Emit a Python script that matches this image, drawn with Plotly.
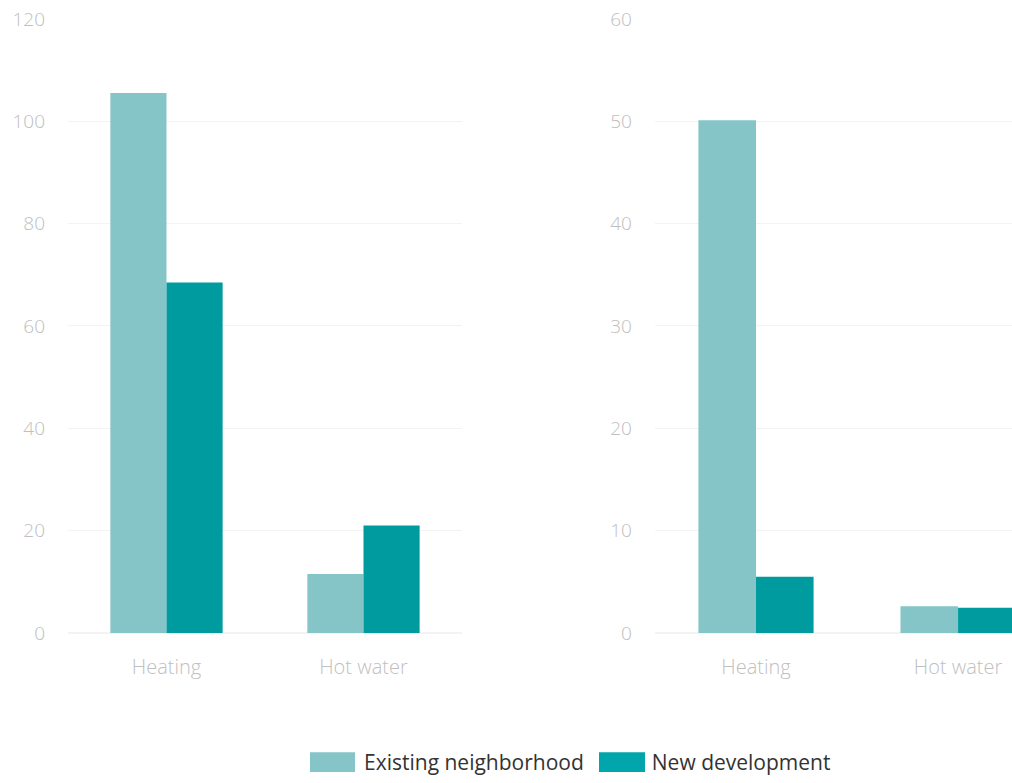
import plotly.graph_objects as go
from plotly.subplots import make_subplots

categories = ["Heating", "Hot water"]
existing_left = [105.5, 11.5]
new_left = [68.5, 21.0]
existing_right = [50.1, 2.6]
new_right = [5.5, 2.45]
left_ticks = [0, 20, 40, 60, 80, 100, 120]
right_ticks = [0, 10, 20, 30, 40, 50, 60]
series_names = ["Existing neighborhood", "New development"]

c_exist = "#86c5c7"
c_new = "#009b9f"
c_new_legend = "#00a6ab"

W, H = 1012, 783


def py(px):
    """paper fraction for a pixel row (from top)"""
    return 1 - px / H


fig = make_subplots(rows=1, cols=2)

fig.add_trace(go.Bar(x=categories, y=existing_left, name=series_names[0], offsetgroup="e",
                     marker=dict(color=c_exist, line=dict(width=0)), legendgroup="e", showlegend=False), row=1, col=1)
fig.add_trace(go.Bar(x=categories, y=new_left, name=series_names[1], offsetgroup="n",
                     marker=dict(color=c_new, line=dict(width=0)), legendgroup="n", showlegend=False), row=1, col=1)
fig.add_trace(go.Bar(x=categories, y=existing_right, name=series_names[0], offsetgroup="e",
                     marker=dict(color=c_exist, line=dict(width=0)), legendgroup="e", showlegend=False), row=1, col=2)
fig.add_trace(go.Bar(x=categories, y=new_right, name=series_names[1], offsetgroup="n",
                     marker=dict(color=c_new, line=dict(width=0)), legendgroup="n", showlegend=False), row=1, col=2)
# legend entries (no data of their own)
fig.add_trace(go.Bar(x=[None], y=[None], name=series_names[0], legendgroup="e", offsetgroup="e",
                     marker=dict(color=c_exist, line=dict(width=0)), showlegend=True), row=1, col=1)
fig.add_trace(go.Bar(x=[None], y=[None], name=series_names[1], legendgroup="n", offsetgroup="n",
                     marker=dict(color=c_new_legend, line=dict(width=0)), showlegend=True), row=1, col=1)

tickfont = dict(family="Open Sans Light, Open Sans", size=19, color="#c0c0c0", weight=300)
xtickfont = dict(family="Open Sans Light, Open Sans", size=20, color="#c0c0c0", weight=300)
grid = "#f3f3f3"

# enlarged legend swatches (legend decoration, paper coords)
swatches = [(310, 355, c_exist), (599, 645, c_new_legend)]
shapes = []
for x0, x1, col in swatches:
    shapes.append(dict(type="rect", xref="paper", yref="paper",
                       x0=x0 / W, x1=x1 / W, y0=py(777), y1=py(757),
                       fillcolor=col, line=dict(width=0), layer="above"))

ydom = [py(637), py(19)]

fig.update_layout(
    width=W, height=H, autosize=False,
    margin=dict(l=0, r=0, t=0, b=0),
    paper_bgcolor="white", plot_bgcolor="white",
    barmode="group", bargap=0.43, bargroupgap=0,
    font=dict(family="Open Sans"),
    showlegend=True,
    legend=dict(orientation="h", x=301 / W, xanchor="left", y=py(767), yanchor="middle",
                font=dict(family="Open Sans", size=21, color="#333333"),
                traceorder="normal", itemwidth=53, bgcolor="rgba(0,0,0,0)"),
    shapes=shapes,
    xaxis=dict(domain=[0.0672, 0.4565], range=[-0.5, 1.5], showgrid=False, showline=False,
               zeroline=False, ticks="", tickfont=xtickfont, ticklabelstandoff=20, automargin=False),
    xaxis2=dict(domain=[0.6472, 1.0], range=[-0.5, 1.267], showgrid=False, showline=False,
                zeroline=False, ticks="", tickfont=xtickfont, ticklabelstandoff=20, automargin=False),
    yaxis=dict(domain=ydom, range=[0, 120], tickvals=left_ticks, showgrid=True,
               gridcolor=grid, gridwidth=1, zeroline=True, zerolinecolor=grid, showline=False,
               ticks="", tickfont=tickfont, ticklabelstandoff=22, automargin=False),
    yaxis2=dict(domain=ydom, range=[0, 60], tickvals=right_ticks, showgrid=True,
                gridcolor=grid, gridwidth=1, zeroline=True, zerolinecolor=grid, showline=False,
                ticks="", tickfont=tickfont, ticklabelstandoff=22, automargin=False),
)

fig.write_html("out.html",
               config={"responsive": False, "displayModeBar": False},
               post_script="document.body.style.margin='0px';document.body.style.overflow='hidden';")
